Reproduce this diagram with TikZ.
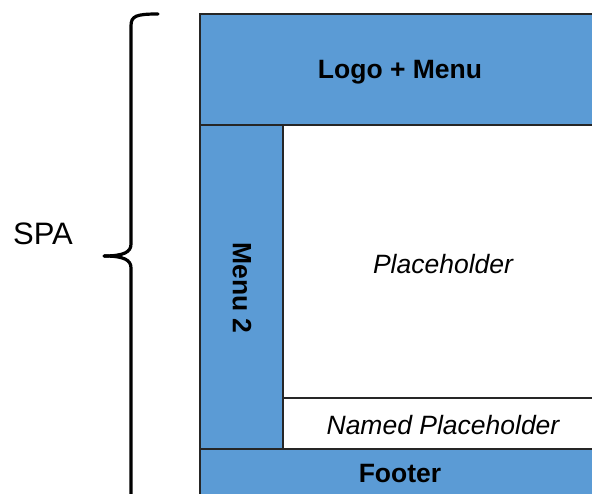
\documentclass[tikz,border=0pt]{standalone}
\usepackage{fontspec}
\setmainfont{Liberation Sans}
\definecolor{boxblue}{HTML}{5B9BD5}
\definecolor{edge}{HTML}{262626}
\begin{document}
\begin{tikzpicture}[x=1pt,y=-1pt,
  panel/.style={draw=edge,line width=1.5pt,anchor=north west,inner sep=0pt,outer sep=0pt},
  bluepanel/.style={panel,fill=boxblue},
  whitepanel/.style={panel,fill=white},
  boldlbl/.style={font=\fontsize{26.5}{30}\selectfont\bfseries},
  itlbl/.style={font=\fontsize{26.5}{30}\selectfont\itshape}]
\useasboundingbox (0,0) rectangle (592,494);
\clip (0,0) rectangle (592,494);
\node[bluepanel,minimum width=400pt,minimum height=111pt] (head) at (200,14) {};
\node[bluepanel,minimum width=83pt,minimum height=324pt] (menu) at (200,125) {};
\node[whitepanel,minimum width=317pt,minimum height=273pt] (ph) at (283,125) {};
\node[whitepanel,minimum width=317pt,minimum height=51pt] (nph) at (283,398) {};
\node[bluepanel,minimum width=400pt,minimum height=60pt] (foot) at (200,449) {};
\node[boldlbl] (headt) at (400,72.5) {Logo + Menu};
\node[boldlbl,rotate=-90] (menut) at (242,288) {Menu 2};
\node[itlbl] (pht) at (443,264) {Placeholder};
\node[itlbl] (npht) at (443,425) {Named Placeholder};
\node[boldlbl] (foott) at (400,474) {Footer};
\node[font=\fontsize{31}{35}\selectfont] (spa) at (43,234) {SPA};
\draw[line width=3.2pt,line cap=round] (158,14) .. controls (136,14) and (131,16) .. (131,26)
  -- (131,244) .. controls (131,252) and (124,256) .. (104,256);
\draw[line width=3.2pt] (104,256) .. controls (124,256) and (131,260) .. (131,268) -- (131,500);
\end{tikzpicture}
\end{document}
